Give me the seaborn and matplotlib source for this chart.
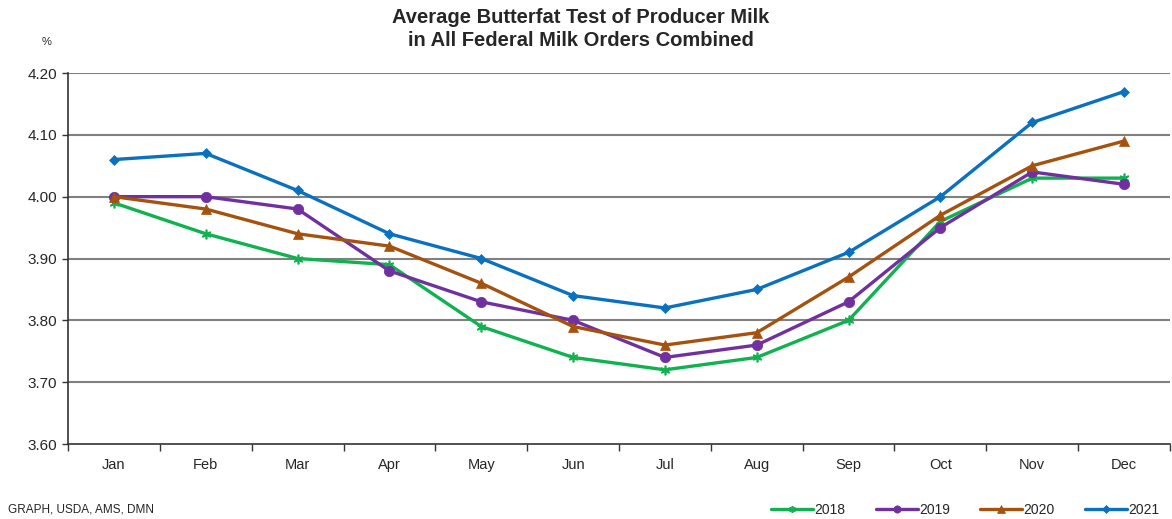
import numpy as np
import pandas as pd
import matplotlib
matplotlib.use("Agg")
import matplotlib.pyplot as plt
import seaborn as sns

months = ["Jan", "Feb", "Mar", "Apr", "May", "Jun", "Jul", "Aug", "Sep", "Oct", "Nov", "Dec"]
years = ["2018", "2019", "2020", "2021"]
v2018 = [3.99, 3.94, 3.90, 3.89, 3.79, 3.74, 3.72, 3.74, 3.80, 3.96, 4.03, 4.03]
v2019 = [4.00, 4.00, 3.98, 3.88, 3.83, 3.80, 3.74, 3.76, 3.83, 3.95, 4.04, 4.02]
v2020 = [4.00, 3.98, 3.94, 3.92, 3.86, 3.79, 3.76, 3.78, 3.87, 3.97, 4.05, 4.09]
v2021 = [4.06, 4.07, 4.01, 3.94, 3.90, 3.84, 3.82, 3.85, 3.91, 4.00, 4.12, 4.17]
y_ticks = [3.60, 3.70, 3.80, 3.90, 4.00, 4.10, 4.20]

series = {"2018": v2018, "2019": v2019, "2020": v2020, "2021": v2021}
rows = []
for yr in years:
    for i, m in enumerate(months):
        rows.append({"month": m, "pos": i, "year": yr, "value": series[yr][i]})
df = pd.DataFrame(rows)

sns.set_theme(style="white")
plt.rcParams['font.family'] = ['Liberation Sans', 'DejaVu Sans']

palette = {"2018": "#10b24f", "2019": "#7030a0", "2020": "#a5520f", "2021": "#0a70c0"}
markers = {"2018": (6, 2, 0), "2019": "o", "2020": "^", "2021": "D"}
msizes = {"2018": 7, "2019": 7.5, "2020": 7.5, "2021": 5.5}

fig = plt.figure(figsize=(11.72, 5.19), dpi=100)
ax = fig.add_axes([68 / 1172, 1 - 444 / 519, (1170 - 68) / 1172, (444 - 73) / 519])

for yr in years:
    sub = df[df["year"] == yr]
    sns.lineplot(data=sub, x="pos", y="value", ax=ax, color=palette[yr],
                 marker=markers[yr], markersize=msizes[yr], linewidth=2.4,
                 markeredgecolor=palette[yr], markeredgewidth=1.2 if yr == "2018" else 0.5,
                 label=yr, legend=False)

ax.set_xlim(-0.5, 11.5)
ax.set_ylim(3.60, 4.20)
ax.set_yticks(y_ticks)
ax.set_yticklabels([f"{t:.2f}" for t in y_ticks], fontsize=11)
ax.set_xticks(range(12))
ax.set_xticklabels(months, fontsize=10.5)
ax.tick_params(axis="x", which="major", length=0, pad=10)
ax.set_xticks(np.arange(-0.5, 12, 1), minor=True)
ax.tick_params(axis="x", which="minor", length=5, width=1, color="#333333", direction="out", bottom=True)
ax.tick_params(axis="y", length=4, width=1, color="#333333", direction="out", left=True, pad=4)
ax.set_xlabel("")
ax.set_ylabel("")

for t in y_ticks[1:]:
    ax.axhline(t, color="#808080", linewidth=1.5, zorder=0)

for s in ["top", "right"]:
    ax.spines[s].set_visible(False)
ax.spines["left"].set_color("#333333")
ax.spines["bottom"].set_color("#333333")
ax.spines["left"].set_linewidth(1.2)
ax.spines["bottom"].set_linewidth(1.2)

fig.text(581 / 1172, 1 - 29 / 519, "Average Butterfat Test of Producer Milk\nin All Federal Milk Orders Combined",
         ha="center", va="center", fontsize=14.5, fontweight="bold", linespacing=1.3)
fig.text(47 / 1172, 1 - 42 / 519, "%", ha="center", va="center", fontsize=8)
fig.text(8 / 1172, 1 - 510 / 519, "GRAPH, USDA, AMS, DMN", ha="left", va="center", fontsize=8.5)

handles, labels = ax.get_legend_handles_labels()
leg = fig.legend(handles, labels, loc="center right", bbox_to_anchor=(1.0, 1 - 510 / 519),
                 ncol=4, frameon=False, fontsize=10, handlelength=3.0, handletextpad=0.1,
                 columnspacing=2.2, markerscale=0.7)

fig.savefig("out.png", dpi=100)
